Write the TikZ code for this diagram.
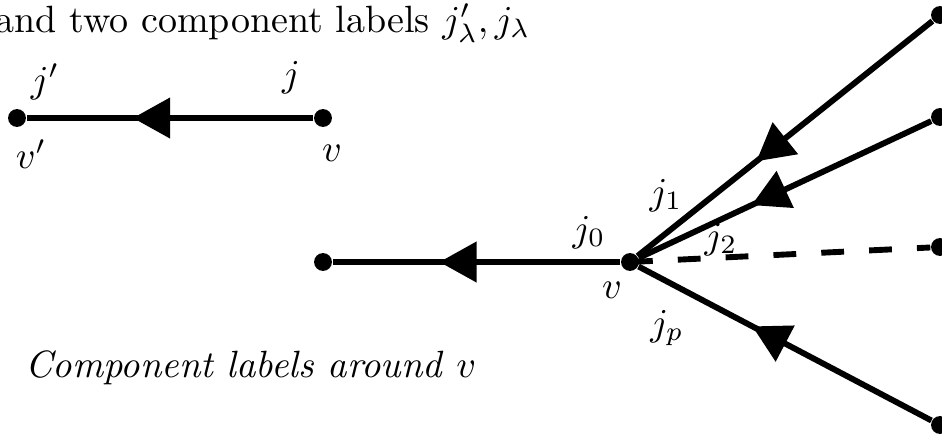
\documentclass[tikz,border=0pt]{standalone}
\usetikzlibrary{decorations.markings}
\begin{document}
\begin{tikzpicture}[x=0.2632pt,y=-0.2632pt,
  dot/.style={circle,fill=black,inner sep=0pt,minimum size=4.7pt},
  edge/.style={line width=1.55pt},
  midarrow/.style={postaction={decorate},decoration={markings,
     mark=at position 0.5 with {\fill (0pt,5.4pt) -- (9.7pt,0pt) -- (0pt,-5.4pt) -- cycle;}}},
  dashedge/.style={line width=1.55pt, dash pattern=on 6pt off 6.6pt},
  lab/.style={inner sep=0pt, anchor=base},
  txt/.style={inner sep=0pt, anchor=base west}]
\useasboundingbox (0,0) rectangle (942,436);
% title and caption
\node[txt] (title) at (-5,32) {and two component labels $j'_\lambda, j_\lambda$};
\node[txt] (caption) at (25,377) {\textit{Component labels around} $v$};
% left diagram
\node[dot] (vp) at (17,118) {};
\node[dot] (va) at (323,118) {};
\draw[edge,midarrow] (va) -- (vp);
\node[lab] (ljp) at (45,92) {$j'$};
\node[lab] (lj) at (291,86) {$j$};
\node[lab] (lvp) at (31,168) {$v'$};
\node[lab] (lva) at (332,161) {$v$};
% right diagram
\node[dot] (u0) at (323,262) {};
\node[dot] (v) at (630,262) {};
\node[dot] (u1) at (940,15) {};
\node[dot] (u2) at (940,117) {};
\node[dot] (u3) at (940,247) {};
\node[dot] (u4) at (940,425) {};
\draw[edge,midarrow] (v) -- (u0);
\draw[edge,midarrow] (u1) -- (v);
\draw[edge,midarrow] (u2) -- (v);
\draw[dashedge] (v.center) -- (u3);
\draw[edge,midarrow] (u4) -- (v);
\node[lab] (lj0) at (589,241) {$j_0$};
\node[lab] (lv) at (612,298) {$v$};
\node[lab] (lj1) at (666,204) {$j_1$};
\node[lab] (lj2) at (721,248) {$j_2$};
\node[lab] (ljp2) at (667,335) {$j_p$};
\end{tikzpicture}
\end{document}
